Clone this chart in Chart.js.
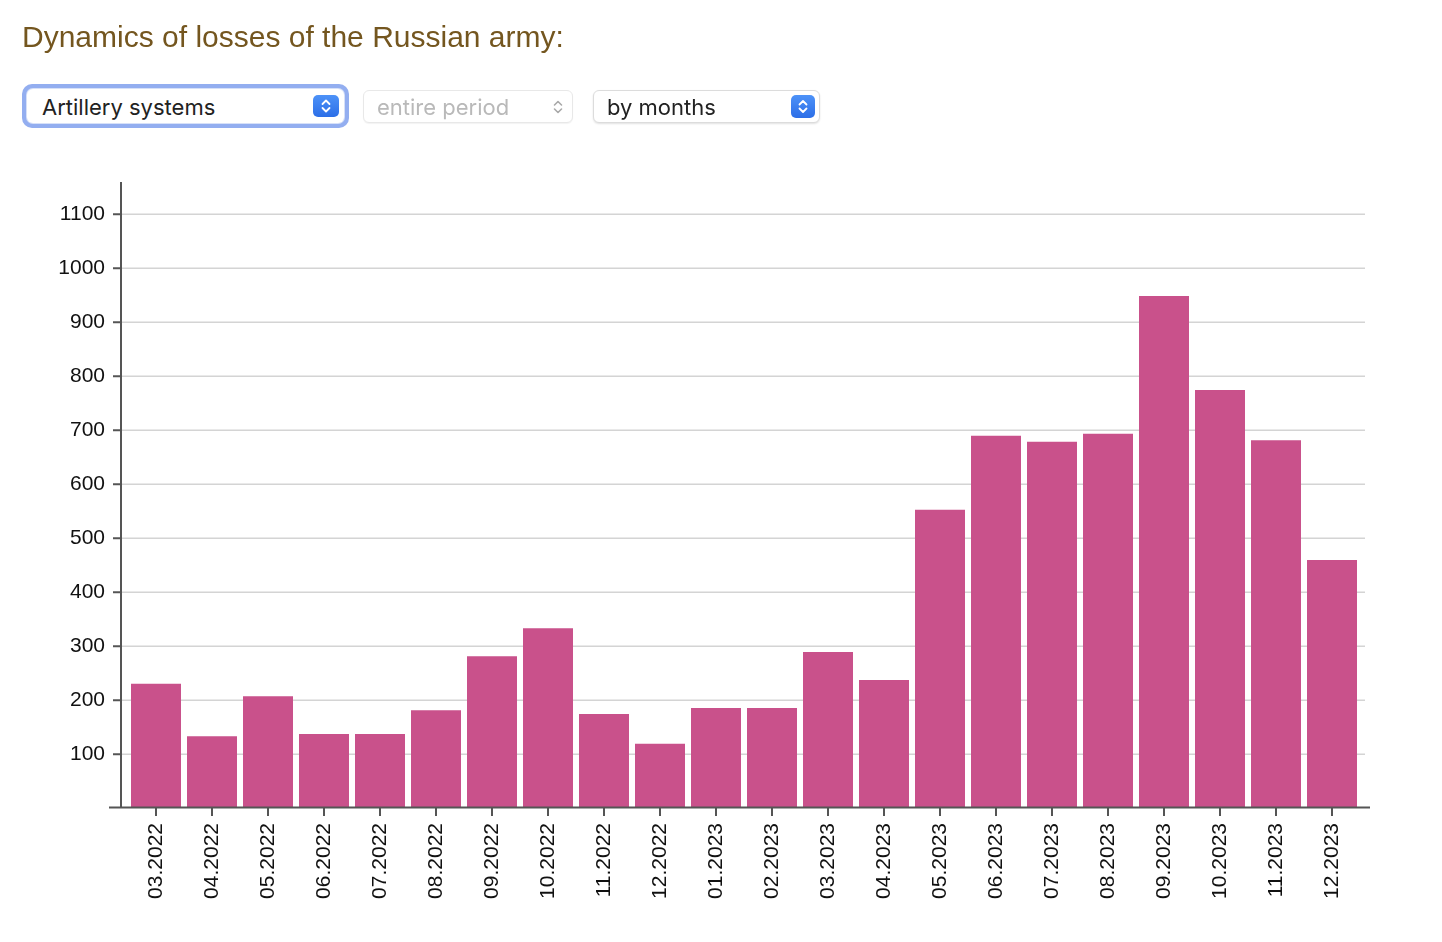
<!DOCTYPE html>
<html>
<head>
<meta charset="utf-8">
<script src="https://cdn.jsdelivr.net/npm/chart.js@4/dist/chart.umd.min.js"></script>
<style>
  html, body { margin: 0; padding: 0; background: #fff; }
  body { width: 1442px; height: 942px; overflow: hidden; position: relative; }
  #title {
    position: absolute; left: 22px; top: 22px; margin: 0;
    font: normal 30px/30px "Liberation Sans", Arial, sans-serif;
    color: #74561f; white-space: nowrap; z-index: 2;
  }
  .ring {
    position: absolute; left: 22px; top: 84px; width: 327px; height: 44px;
    border-radius: 10px; background: #93aef0; z-index: 2;
  }
  .sel {
    position: absolute; box-sizing: border-box; background: #fff; border-radius: 6px;
    font: normal 22px/33px Inter, "Open Sans", sans-serif; z-index: 3; white-space: nowrap;
  }
  .sel span { position: absolute; }
  .sel svg { position: absolute; }
  #chartBox { position: absolute; left: 0; top: 0; width: 1442px; height: 942px; z-index: 1; }
</style>
</head>
<body>
<h1 id="title">Dynamics of losses of the Russian army:</h1>

<div class="ring"></div>
<div class="sel" style="left:27px;top:89px;width:317px;height:34px;box-shadow:0 0 0 1px #d6e0f8;color:#222;">
  <span style="left:15px;top:2px;">Artillery systems</span>
  <svg style="left:286px;top:6px" width="26" height="22" viewBox="0 0 26 22">
    <defs><linearGradient id="g1" x1="0" y1="0" x2="0" y2="1"><stop offset="0" stop-color="#4d92f8"/><stop offset="1" stop-color="#2c6ee7"/></linearGradient></defs>
    <rect x="0" y="0" width="26" height="22" rx="5" fill="url(#g1)"/>
    <polyline points="9.5,9 13,5.5 16.5,9" fill="none" stroke="#fff" stroke-width="1.8" stroke-linecap="round" stroke-linejoin="round"/>
    <polyline points="9.5,13 13,16.5 16.5,13" fill="none" stroke="#fff" stroke-width="1.8" stroke-linecap="round" stroke-linejoin="round"/>
  </svg>
</div>

<div class="sel" style="left:363px;top:90px;width:210px;height:33px;border:1px solid #e8e8e8;box-shadow:0 1px 1px rgba(0,0,0,0.05);color:#b9b9b9;">
  <span style="left:13px;top:0px;">entire period</span>
  <svg style="left:183px;top:5px" width="22" height="22" viewBox="0 0 22 22">
    <polyline points="7.5,9 11,5.5 14.5,9" fill="none" stroke="#a9a9a9" stroke-width="1.6" stroke-linecap="round" stroke-linejoin="round"/>
    <polyline points="7.5,13 11,16.5 14.5,13" fill="none" stroke="#a9a9a9" stroke-width="1.6" stroke-linecap="round" stroke-linejoin="round"/>
  </svg>
</div>

<div class="sel" style="left:593px;top:90px;width:227px;height:33px;border:1px solid #dcdcdc;box-shadow:0 1px 2px rgba(0,0,0,0.12);color:#222;">
  <span style="left:13px;top:0px;">by months</span>
  <svg style="left:197px;top:4px" width="24" height="23" viewBox="0 0 24 23">
    <defs><linearGradient id="g2" x1="0" y1="0" x2="0" y2="1"><stop offset="0" stop-color="#4d92f8"/><stop offset="1" stop-color="#2c6ee7"/></linearGradient></defs>
    <rect x="0" y="0" width="24" height="23" rx="5" fill="url(#g2)"/>
    <polyline points="8.5,9.5 12,6 15.5,9.5" fill="none" stroke="#fff" stroke-width="1.8" stroke-linecap="round" stroke-linejoin="round"/>
    <polyline points="8.5,13.5 12,17 15.5,13.5" fill="none" stroke="#fff" stroke-width="1.8" stroke-linecap="round" stroke-linejoin="round"/>
  </svg>
</div>

<div id="chartBox"><canvas id="chart"></canvas></div>

<script>
// ---- data ----
const categories = ['03.2022','04.2022','05.2022','06.2022','07.2022','08.2022','09.2022','10.2022','11.2022','12.2022',
                    '01.2023','02.2023','03.2023','04.2023','05.2023','06.2023','07.2023','08.2023','09.2023','10.2023','11.2023','12.2023'];
const artilleryLosses = [230, 133, 207, 137, 137, 181, 281, 333, 174, 119,
                         185, 185, 289, 237, 552, 689, 678, 693, 948, 774, 681, 459];
const yTickValues = [100, 200, 300, 400, 500, 600, 700, 800, 900, 1000, 1100];
const yMax = 1159;

const AXIS_COLOR = '#555555';
const GRID_COLOR = '#d4d4d4';
const TICK_FONT = { family: '"Liberation Sans", Arial, sans-serif', size: 21 };

const axesOverlay = {
  id: 'axesOverlay',
  beforeDatasetsDraw(chart) {
    const { ctx, chartArea, scales } = chart;
    const y = scales.y;
    ctx.save();
    ctx.strokeStyle = GRID_COLOR;
    ctx.lineWidth = 1.5;
    y.ticks.forEach(t => {
      const py = Math.round(y.getPixelForValue(t.value)) + 0.25;
      ctx.beginPath();
      ctx.moveTo(chartArea.left - 7, py);
      ctx.lineTo(chartArea.right + 5, py);
      ctx.stroke();
    });
    ctx.restore();
  },
  afterDatasetsDraw(chart) {
    const { ctx, chartArea, scales } = chart;
    const y = scales.y;
    const axisX = chartArea.left - 7;
    ctx.save();
    ctx.strokeStyle = AXIS_COLOR;
    ctx.lineWidth = 2;
    ctx.beginPath();
    ctx.moveTo(axisX, chartArea.top);
    ctx.lineTo(axisX, chartArea.bottom);
    ctx.stroke();
    y.ticks.forEach(t => {
      const py = Math.round(y.getPixelForValue(t.value)) + 0.25;
      ctx.beginPath();
      ctx.moveTo(axisX - 8, py);
      ctx.lineTo(axisX, py);
      ctx.stroke();
    });
    ctx.beginPath();
    ctx.moveTo(chartArea.left - 19, chartArea.bottom - 0.5);
    ctx.lineTo(chartArea.right + 10, chartArea.bottom - 0.5);
    ctx.stroke();
    ctx.restore();
  }
};

new Chart(document.getElementById('chart'), {
  type: 'bar',
  data: {
    labels: categories,
    datasets: [{
      label: 'Artillery systems',
      data: artilleryLosses,
      backgroundColor: '#c9518b',
      borderWidth: 0,
      barPercentage: 50 / 56,
      categoryPercentage: 1.0
    }]
  },
  options: {
    responsive: true,
    maintainAspectRatio: false,
    animation: false,
    events: [],
    layout: { padding: { left: 0, top: 182, right: 82, bottom: 14 } },
    plugins: { legend: { display: false }, tooltip: { enabled: false }, title: { display: false } },
    scales: {
      x: {
        type: 'category',
        offset: true,
        border: { display: false },
        grid: { display: true, drawOnChartArea: false, drawTicks: true, tickLength: 8, color: AXIS_COLOR, lineWidth: 2, offset: false },
        ticks: { color: '#111', font: TICK_FONT, minRotation: 90, maxRotation: 90, autoSkip: false, padding: 7 },
        afterFit(scale) { scale.height = 120; }
      },
      y: {
        type: 'linear',
        min: 0,
        max: yMax,
        border: { display: false },
        grid: { display: true, color: 'rgba(0,0,0,0)', drawTicks: true, tickLength: 8 },
        ticks: { color: '#111', font: TICK_FONT, padding: 15, callback: v => String(v) },
        afterBuildTicks(scale) { scale.ticks = yTickValues.map(v => ({ value: v })); },
        afterFit(scale) { scale.width = 128; }
      }
    }
  },
  plugins: [axesOverlay]
});
</script>
</body>
</html>
